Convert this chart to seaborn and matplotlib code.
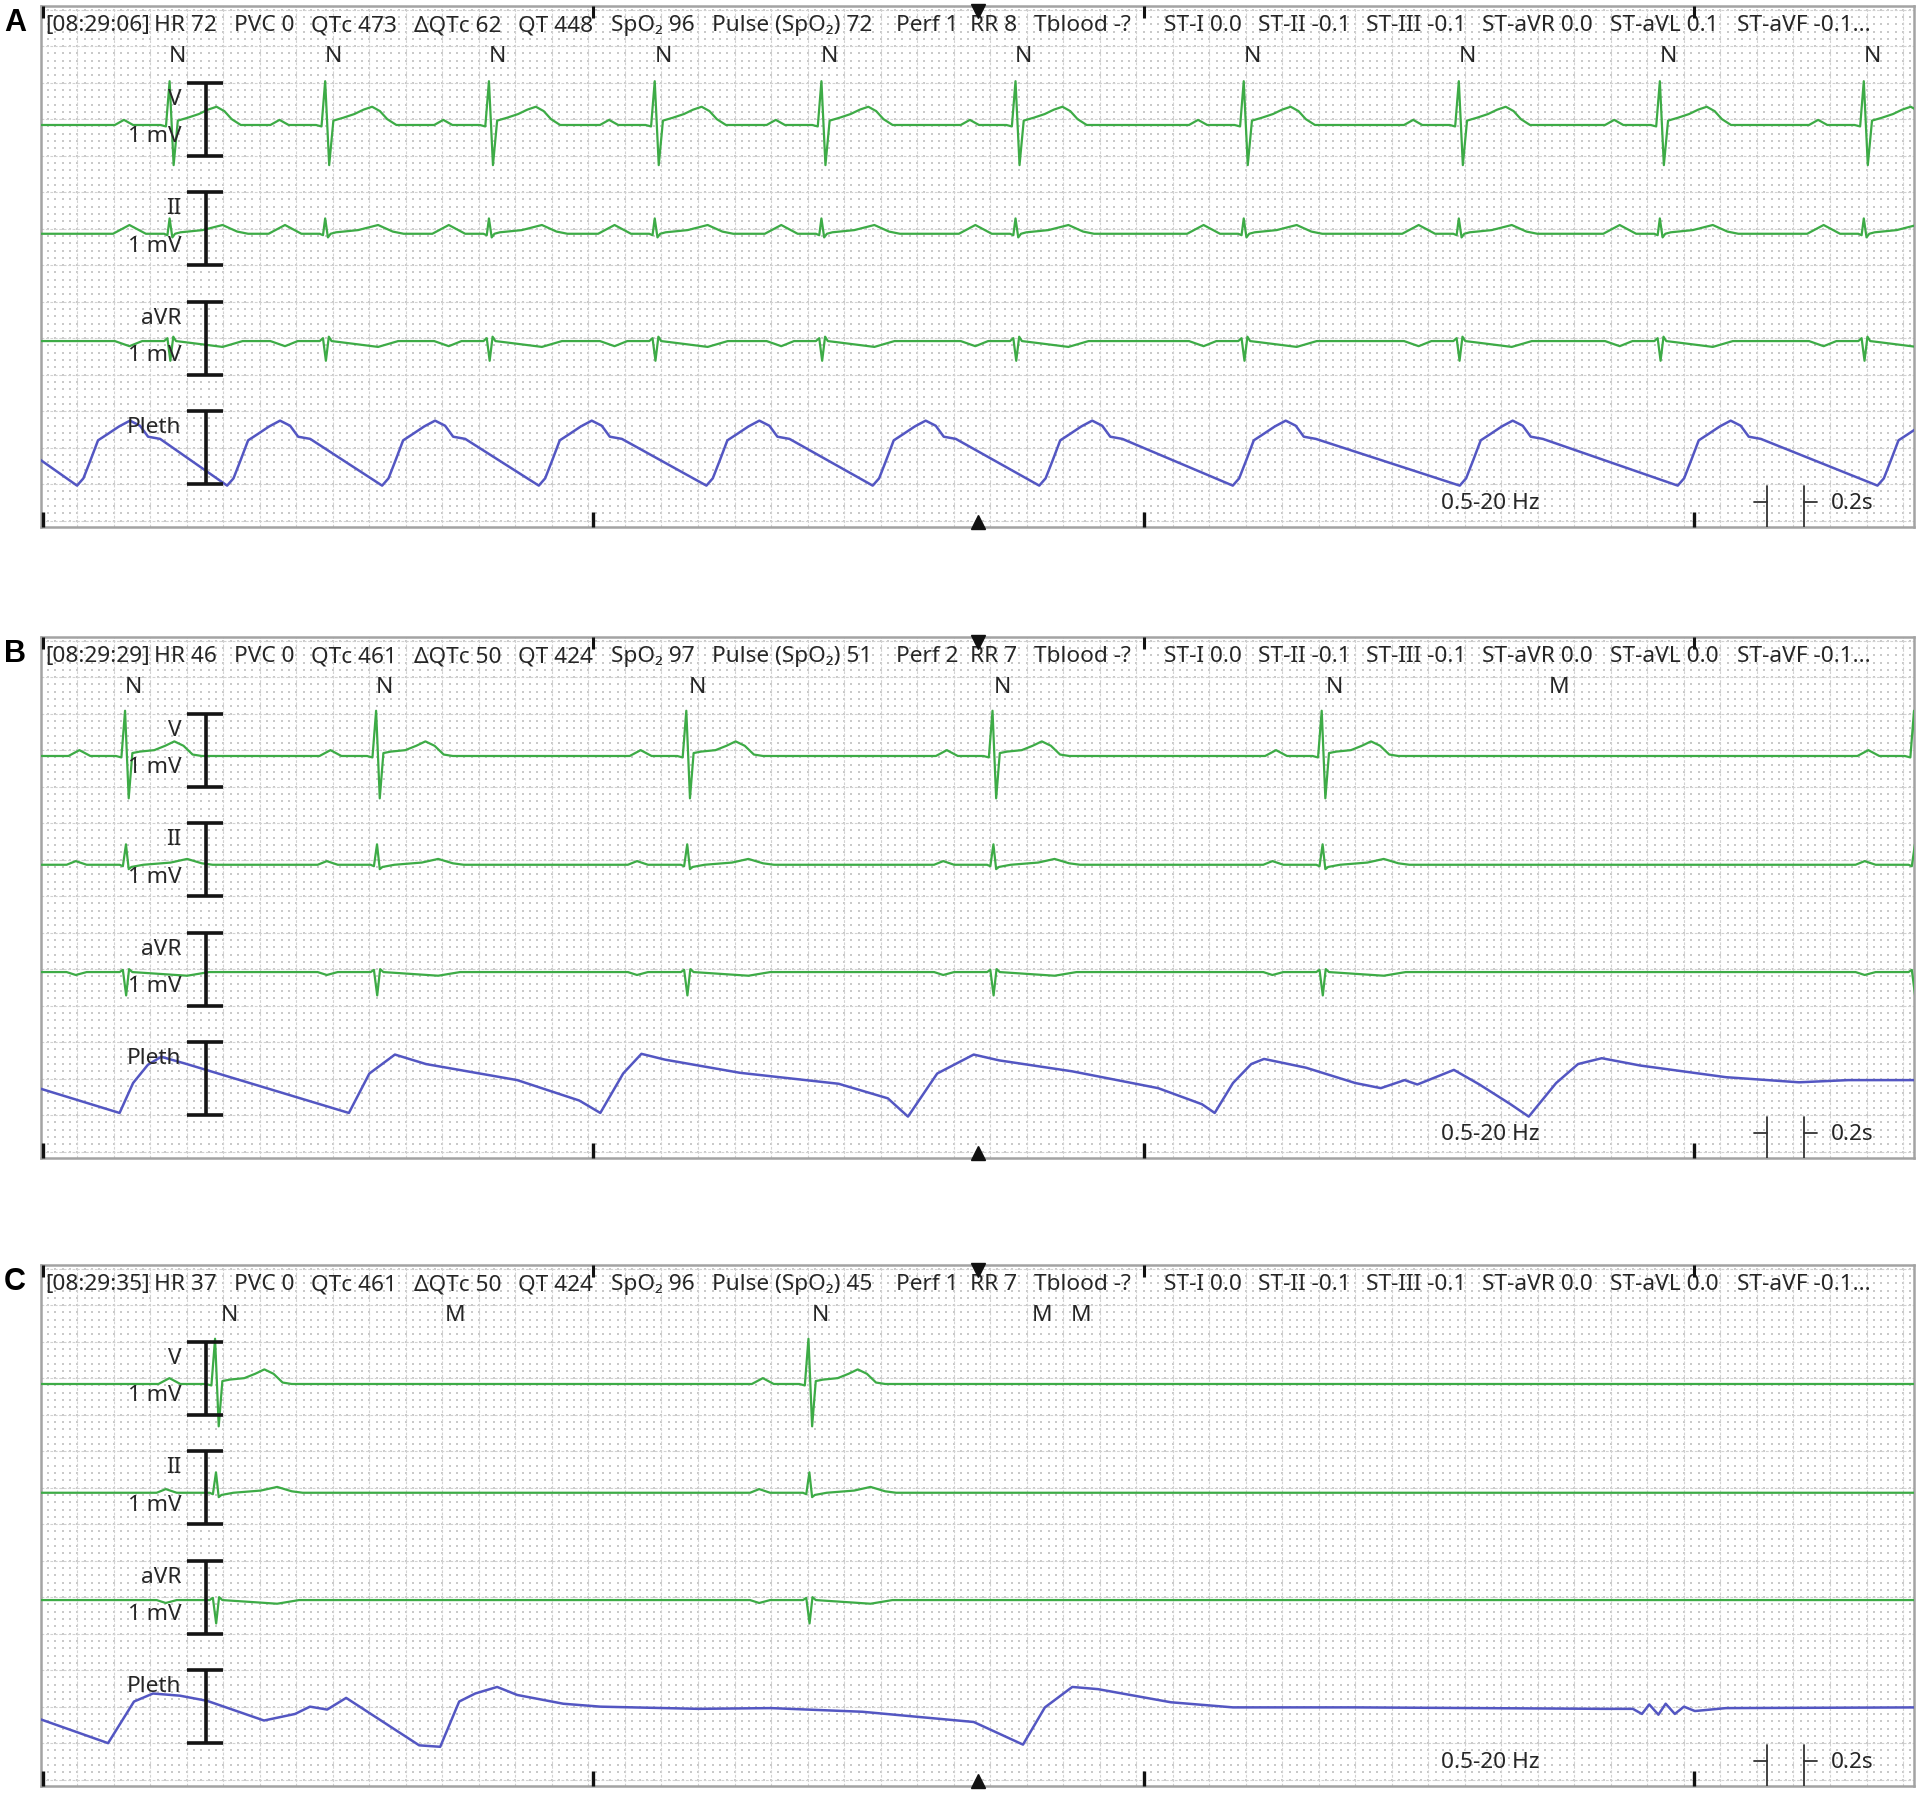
import numpy as np
import matplotlib
matplotlib.use("Agg")
import matplotlib.pyplot as plt
import seaborn as sns

# ------------------------------------------------------------------ data
# time in s from the left edge of each strip, amplitudes in mV
HEADER_A = ["[08:29:06]", "HR 72", "PVC 0", "QTc 473", "ΔQTc 62", "QT 448", "SpO₂ 96",
            "Pulse (SpO₂) 72", "Perf 1", "RR 8", "Tblood -?", "ST-I 0.0", "ST-II -0.1",
            "ST-III -0.1", "ST-aVR 0.0", "ST-aVL 0.1", "ST-aVF -0.1..."]
HEADER_B = ["[08:29:29]", "HR 46", "PVC 0", "QTc 461", "ΔQTc 50", "QT 424", "SpO₂ 97",
            "Pulse (SpO₂) 51", "Perf 2", "RR 7", "Tblood -?", "ST-I 0.0", "ST-II -0.1",
            "ST-III -0.1", "ST-aVR 0.0", "ST-aVL 0.0", "ST-aVF -0.1..."]
HEADER_C = ["[08:29:35]", "HR 37", "PVC 0", "QTc 461", "ΔQTc 50", "QT 424", "SpO₂ 96",
            "Pulse (SpO₂) 45", "Perf 1", "RR 7", "Tblood -?", "ST-I 0.0", "ST-II -0.1",
            "ST-III -0.1", "ST-aVR 0.0", "ST-aVL 0.0", "ST-aVF -0.1..."]
HEADER_T = [0.027, 0.621, 1.059, 1.478, 2.045, 2.615, 3.125, 3.678, 4.686, 5.092, 5.440,
            6.150, 6.667, 7.260, 7.892, 8.593, 9.290]

# R-peak times
R_A = [0.706, 1.558, 2.455, 3.363, 4.276, 5.339, 6.589, 7.767, 8.868, 9.985]
R_B = [0.462, 1.837, 3.536, 5.213, 7.016, 10.26]
R_C = [0.955, 4.205]

# beat annotations
ANN_T_A = [0.751, 1.603, 2.500, 3.408, 4.321, 5.384, 6.634, 7.812, 8.913, 10.03]
ANN_L_A = ["N", "N", "N", "N", "N", "N", "N", "N", "N", "N"]
ANN_T_B = [0.506, 1.882, 3.596, 5.267, 7.087, 8.317]
ANN_L_B = ["N", "N", "N", "N", "N", "M"]
ANN_T_C = [1.032, 2.268, 4.273, 5.484, 5.700]
ANN_L_C = ["N", "M", "N", "M", "M"]

# beat templates (time relative to R, mV relative to baseline)
V_A_T = [-0.30, -0.25, -0.20, -0.05, -0.02, 0.0, 0.022, 0.045, 0.10, 0.16, 0.21, 0.257, 0.30, 0.34, 0.39]
V_A_V = [0.0, 0.07, 0.0, 0.0, -0.02, 0.60, -0.55, 0.06, 0.10, 0.15, 0.21, 0.25, 0.19, 0.08, 0.0]
II_A_T = [-0.31, -0.22, -0.13, -0.03, -0.012, 0.0, 0.015, 0.03, 0.06, 0.18, 0.29, 0.37, 0.43]
II_A_V = [0.0, 0.12, 0.0, 0.0, -0.02, 0.21, -0.05, 0.0, 0.02, 0.05, 0.12, 0.03, 0.0]
AVR_A_T = [-0.30, -0.22, -0.15, -0.03, -0.012, 0.004, 0.02, 0.035, 0.10, 0.29, 0.40]
AVR_A_V = [0.0, -0.07, 0.0, 0.0, 0.04, -0.27, 0.06, 0.0, -0.02, -0.08, 0.0]

V_B_T = [-0.31, -0.25, -0.19, -0.05, -0.02, 0.0, 0.02, 0.04, 0.08, 0.16, 0.22, 0.27, 0.32, 0.37, 0.42]
V_B_V = [0.0, 0.08, 0.0, 0.0, -0.02, 0.62, -0.58, 0.04, 0.06, 0.08, 0.14, 0.20, 0.14, 0.02, 0.0]
II_B_T = [-0.32, -0.27, -0.21, -0.03, -0.012, 0.005, 0.02, 0.035, 0.10, 0.25, 0.34, 0.42, 0.48]
II_B_V = [0.0, 0.05, 0.0, 0.0, -0.02, 0.28, -0.06, -0.03, 0.0, 0.03, 0.08, 0.02, 0.0]
AVR_B_T = [-0.32, -0.27, -0.21, -0.03, -0.012, 0.006, 0.022, 0.04, 0.10, 0.34, 0.46]
AVR_B_V = [0.0, -0.04, 0.0, 0.0, 0.03, -0.32, 0.04, 0.0, -0.01, -0.05, 0.0]

# pleth: A = pulse template placed at troughs, B/C = read knots (mV above trough level)
PLETH_A_TROUGHS = [-0.62, 0.199, 1.021, 1.870, 2.728, 3.646, 4.557, 5.469, 6.529, 7.772, 8.966, 10.06]
PULSE_T = [0.0, 0.035, 0.071, 0.115, 0.170, 0.230, 0.290, 0.345, 0.389, 0.455]
PULSE_V = [0.0, 0.10, 0.33, 0.62, 0.71, 0.81, 0.89, 0.82, 0.67, 0.64]

PLETH_B_T = [-0.05, 0.432, 0.506, 0.587, 0.66, 0.80, 1.688, 1.80, 1.94, 2.11, 2.61, 2.95, 3.065,
             3.19, 3.29, 3.42, 3.83, 4.37, 4.64, 4.75, 4.91, 5.11, 5.25, 5.65, 6.12, 6.36, 6.43,
             6.53, 6.63, 6.70, 6.93, 7.20, 7.34, 7.47, 7.54, 7.74, 7.88, 8.05, 8.15, 8.30, 8.42,
             8.55, 8.76, 9.23, 9.63, 9.90, 10.30]
PLETH_B_V = [0.42, 0.05, 0.46, 0.71, 0.82, 0.72, 0.05, 0.59, 0.85, 0.72, 0.50, 0.22, 0.05,
             0.59, 0.86, 0.78, 0.60, 0.45, 0.25, 0.0, 0.59, 0.85, 0.77, 0.62, 0.39, 0.17, 0.05,
             0.46, 0.72, 0.79, 0.67, 0.46, 0.39, 0.50, 0.44, 0.64, 0.44, 0.17, 0.0, 0.46, 0.72,
             0.80, 0.70, 0.54, 0.47, 0.50, 0.50]
PLETH_C_T = [-0.05, 0.369, 0.511, 0.615, 0.763, 0.911, 1.223, 1.393, 1.475, 1.569, 1.673, 2.073,
             2.188, 2.292, 2.380, 2.500, 2.610, 2.862, 3.065, 3.60, 4.00, 4.50, 5.11, 5.38, 5.50,
             5.65, 5.79, 6.19, 6.53, 7.20, 8.55, 8.72, 8.77, 8.81, 8.86, 8.90, 8.95, 9.00, 9.06,
             9.23, 10.30]
PLETH_C_V = [0.39, 0.02, 0.59, 0.70, 0.67, 0.60, 0.33, 0.42, 0.52, 0.48, 0.64, -0.01,
             -0.03, 0.59, 0.70, 0.79, 0.68, 0.56, 0.52, 0.49, 0.50, 0.45, 0.31, 0.0, 0.51,
             0.79, 0.76, 0.58, 0.51, 0.51, 0.49, 0.49, 0.42, 0.55, 0.41, 0.56, 0.42, 0.52, 0.46,
             0.50, 0.51]

CHANNELS = ["V", "II", "aVR", "Pleth"]

# ------------------------------------------------------------------ style
sns.set_theme(style="white")
plt.rcParams["font.family"] = ["Noto Sans", "DejaVu Sans"]

ECG_COL = "#3dab46"
PLETH_COL = "#5356c2"
TXT_COL = "#262626"
GRID_COL = "#c9c9c9"
FS = 16.3

BASE_V, BASE_II, BASE_AVR, BASE_PL = -1.58, -3.07, -4.54, -6.52
T_MAX = 10.26
Y_TOP = 0.05
H_PX, L_PX, W_PX = 521, 40.7, 1873.3
PX_PER_MV = 73.0
Y_BOT = Y_TOP - H_PX / PX_PER_MV
TOPS_PX = [6, 637, 1265]


def assemble(events, tt, vv):
    t = [-2.0]
    v = [0.0]
    for e in events:
        for dt, dv in zip(tt, vv):
            t.append(e + dt)
            v.append(dv)
    t.append(12.0)
    v.append(0.0)
    t = np.asarray(t)
    v = np.asarray(v)
    o = np.argsort(t, kind="stable")
    return t[o], v[o]


fig = plt.figure(figsize=(19.32, 17.93), dpi=100)

panels = [
    dict(label="A", header=HEADER_A, R=R_A, ann_t=ANN_T_A, ann_l=ANN_L_A,
         tmpl=[(V_A_T, V_A_V), (II_A_T, II_A_V), (AVR_A_T, AVR_A_V)]),
    dict(label="B", header=HEADER_B, R=R_B, ann_t=ANN_T_B, ann_l=ANN_L_B,
         tmpl=[(V_B_T, V_B_V), (II_B_T, II_B_V), (AVR_B_T, AVR_B_V)]),
    dict(label="C", header=HEADER_C, R=R_C, ann_t=ANN_T_C, ann_l=ANN_L_C,
         tmpl=[(V_B_T, V_B_V), (II_B_T, II_B_V), (AVR_B_T, AVR_B_V)]),
]

for i, p in enumerate(panels):
    top = TOPS_PX[i]
    ax = fig.add_axes([L_PX / 1932, 1 - (top + H_PX) / 1793, W_PX / 1932, H_PX / 1793])
    ax.set_xlim(0, T_MAX)
    ax.set_ylim(Y_BOT, Y_TOP)
    ax.set_xticks([])
    ax.set_yticks([])
    for s in ax.spines.values():
        s.set_color("#a3a3a3")
        s.set_linewidth(1.8)

    # grid: dot matrix + dashed major lines
    gx = np.arange(0, T_MAX + 0.001, 0.04)
    gy = np.arange(0.0, Y_BOT, -0.1)
    GX, GY = np.meshgrid(gx, gy)
    ax.scatter(GX.ravel(), GY.ravel(), s=1.0, marker="s", c=GRID_COL, linewidths=0, zorder=0)
    for x in np.arange(0, T_MAX, 0.2):
        ax.axvline(x, color="#d2d2d2", lw=0.8, ls=(0, (2.5, 1.5)), zorder=0)
    for y in np.arange(0.0, Y_BOT, -0.5):
        ax.axhline(y, color="#d2d2d2", lw=0.8, ls=(0, (2.5, 1.5)), zorder=0)

    # ECG traces
    for (tt, vv), base in zip(p["tmpl"], [BASE_V, BASE_II, BASE_AVR]):
        t, v = assemble(p["R"], tt, vv)
        sns.lineplot(x=t, y=v + base, ax=ax, color=ECG_COL, lw=1.6, sort=False,
                     estimator=None, legend=False, zorder=3)

    # pleth
    if p["label"] == "A":
        t, v = assemble(PLETH_A_TROUGHS, PULSE_T, PULSE_V)
    elif p["label"] == "B":
        t, v = np.asarray(PLETH_B_T), np.asarray(PLETH_B_V)
    else:
        t, v = np.asarray(PLETH_C_T), np.asarray(PLETH_C_V)
    sns.lineplot(x=t, y=v + BASE_PL, ax=ax, color=PLETH_COL, lw=1.8, sort=False,
                 estimator=None, legend=False, zorder=3)
    ax.set_xlabel("")
    ax.set_ylabel("")

    # calibration bars and channel labels
    for k, name in enumerate(CHANNELS):
        yt = -1.0 - 1.5 * k
        yb = yt - 1.0
        ax.plot([0.907, 0.907], [yt, yb], color="#141414", lw=2.6, zorder=4, solid_capstyle="butt")
        ax.plot([0.80, 1.00], [yt, yt], color="#141414", lw=2.6, zorder=4, solid_capstyle="butt")
        ax.plot([0.80, 1.00], [yb, yb], color="#141414", lw=2.6, zorder=4, solid_capstyle="butt")
        ax.text(0.77, -1.23 - 1.5 * k, name, ha="right", va="center", fontsize=FS,
                color=TXT_COL, zorder=5)
        if name != "Pleth":
            ax.text(0.77, -1.74 - 1.5 * k, "1 mV", ha="right", va="center", fontsize=FS,
                    color=TXT_COL, zorder=5)

    # header
    for x, s in zip(HEADER_T, p["header"]):
        ax.text(x, -0.22, s, ha="left", va="center", fontsize=FS, color=TXT_COL, zorder=5)
    # beat annotations
    for x, s in zip(p["ann_t"], p["ann_l"]):
        ax.text(x, -0.64, s, ha="center", va="center", fontsize=FS, color=TXT_COL, zorder=5)

    # time markers
    for x in [0.012, 3.025, 6.04, 9.055]:
        ax.plot([x, x], [Y_BOT, Y_BOT + 0.21], color="#111111", lw=2.4, zorder=5,
                solid_capstyle="butt", clip_on=False)
        if x > 0.1:
            ax.plot([x, x], [Y_TOP, Y_TOP - 0.17], color="#111111", lw=2.2, zorder=5,
                    solid_capstyle="butt", clip_on=False)
    ax.plot([0.012, 0.012], [Y_TOP, Y_TOP - 0.17], color="#111111", lw=2.2, zorder=5,
            solid_capstyle="butt")
    ax.plot([5.135], [Y_TOP - 0.07], marker="v", ms=10, color="#111111", zorder=6, clip_on=False)
    ax.plot([5.135], [Y_BOT + 0.07], marker="^", ms=10, color="#111111", zorder=6, clip_on=False)

    # filter text and 0.2 s scale
    ax.text(7.94, -6.77, "0.5-20 Hz", ha="center", va="center", fontsize=FS, color=TXT_COL)
    ax.plot([9.457, 9.457], [-6.52, Y_BOT], color="#333333", lw=1.3, zorder=5)
    ax.plot([9.655, 9.655], [-6.52, Y_BOT], color="#333333", lw=1.3, zorder=5)
    ax.plot([9.386, 9.457], [-6.74, -6.74], color="#333333", lw=1.3, zorder=5)
    ax.plot([9.655, 9.726], [-6.74, -6.74], color="#333333", lw=1.3, zorder=5)
    ax.text(9.92, -6.77, "0.2s", ha="center", va="center", fontsize=FS, color=TXT_COL)

    # panel letter
    fig.text(15 / 1932, 1 - (top + 17) / 1793, p["label"], ha="center", va="center",
             fontsize=22, fontweight="bold", family="Liberation Sans", color="black")

fig.savefig("out.png", dpi=100, facecolor="white")
